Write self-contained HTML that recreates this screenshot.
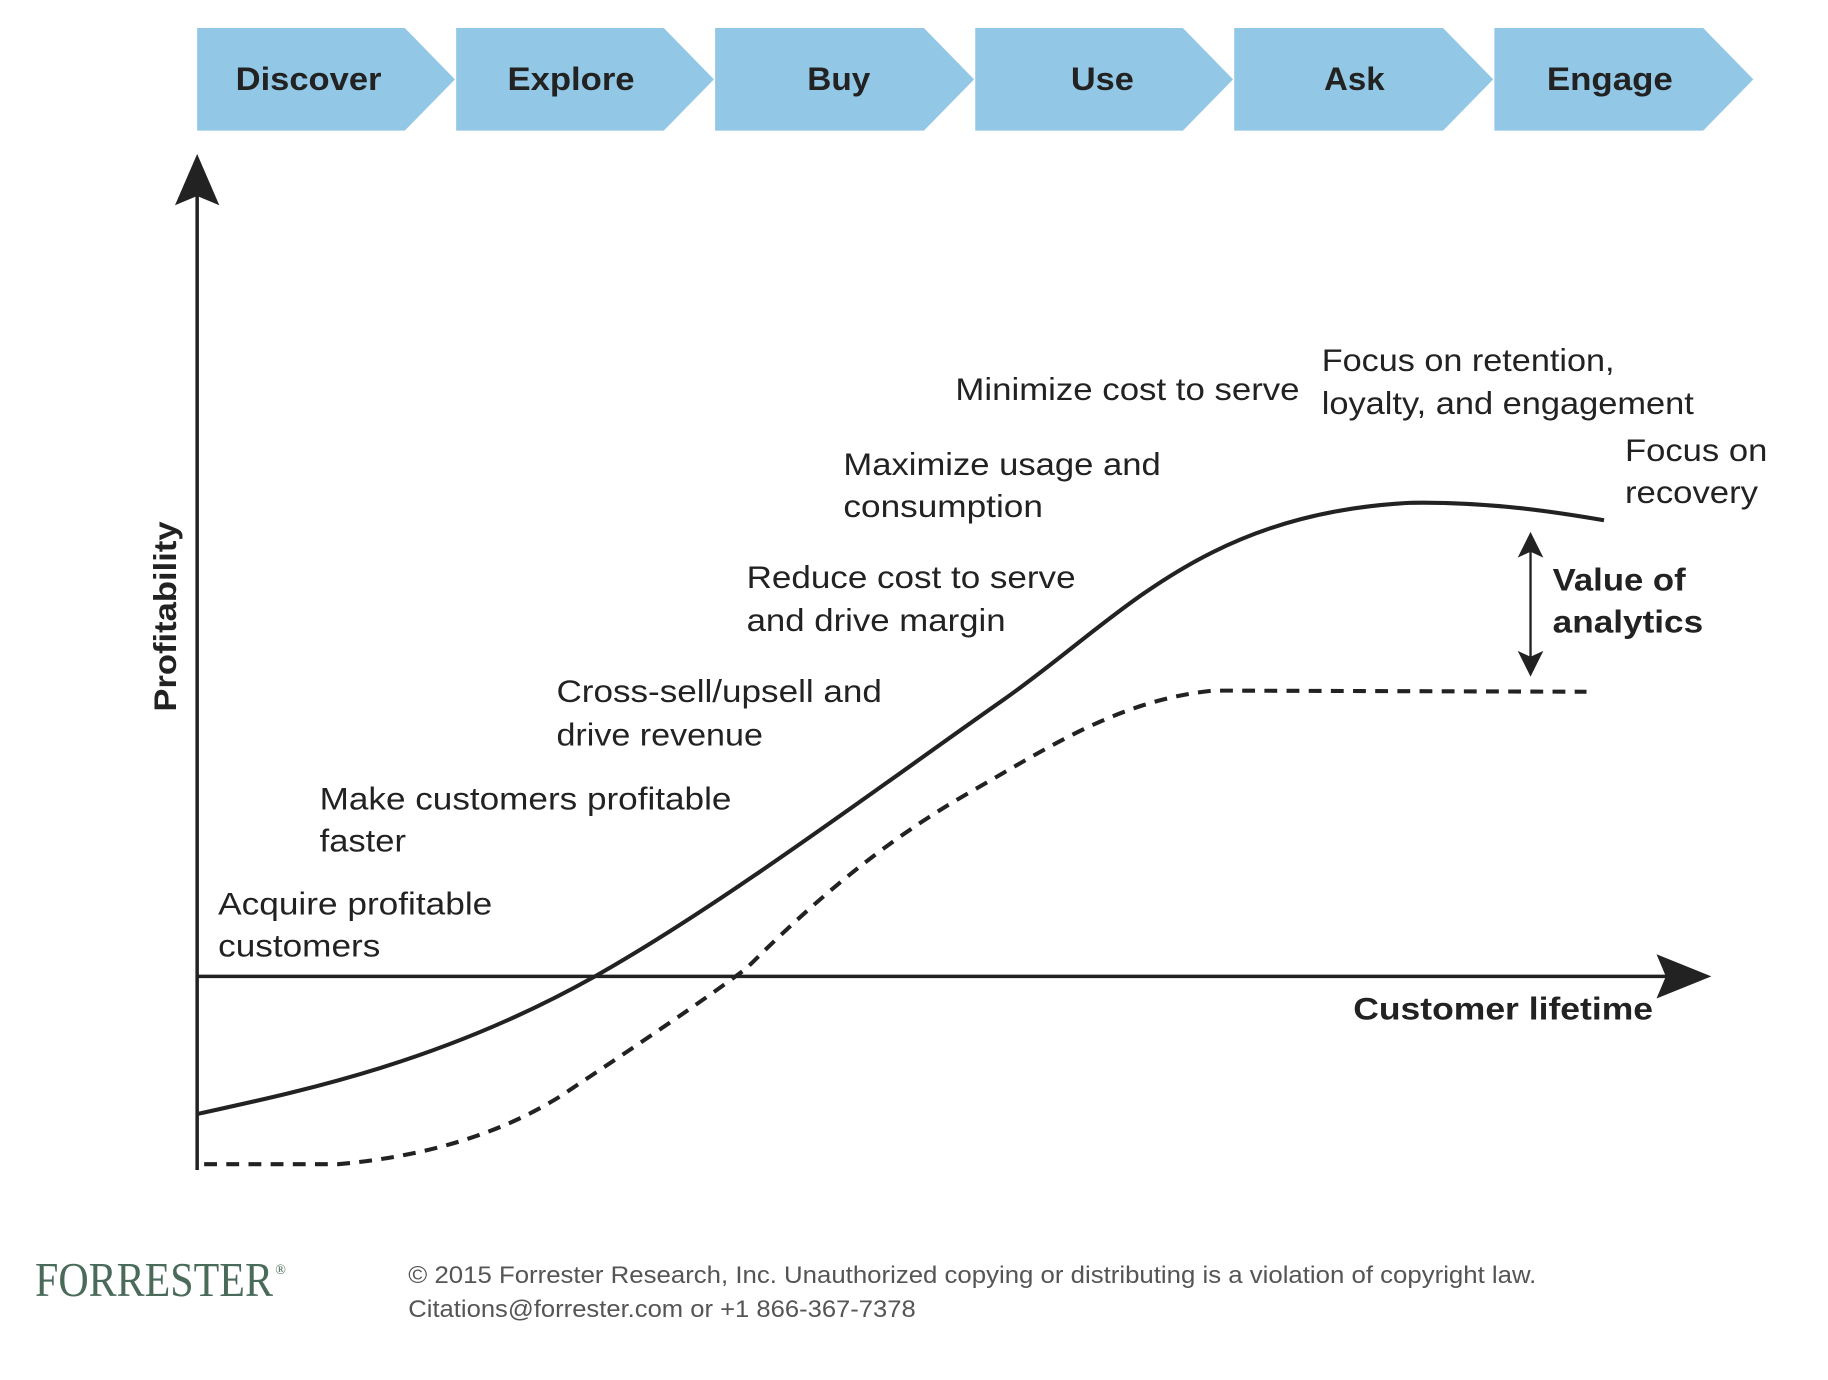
<!DOCTYPE html>
<html><head><meta charset="utf-8"><style>html,body{margin:0;padding:0;background:#fff}svg{display:block}</style></head>
<body>
<svg width="1828" height="1380" viewBox="0 0 1567 1183" preserveAspectRatio="none" xmlns="http://www.w3.org/2000/svg">
<g fill="#92c8e6">
<polygon points="169,24 347,24 390,68 347,112 169,112"/>
<polygon points="391,24 569,24 612,68 569,112 391,112"/>
<polygon points="613,24 792,24 835,68 792,112 613,112"/>
<polygon points="836,24 1014,24 1057,68 1014,112 836,112"/>
<polygon points="1058,24 1237,24 1280,68 1237,112 1058,112"/>
<polygon points="1281,24 1460,24 1503,68 1460,112 1281,112"/>
</g>
<g font-family="Liberation Sans, Arial, sans-serif" font-weight="bold" font-size="28" fill="#222">
<text x="202" y="77" textLength="125" lengthAdjust="spacingAndGlyphs">Discover</text>
<text x="435" y="77" textLength="109" lengthAdjust="spacingAndGlyphs">Explore</text>
<text x="692" y="77" textLength="54" lengthAdjust="spacingAndGlyphs">Buy</text>
<text x="918" y="77" textLength="54" lengthAdjust="spacingAndGlyphs">Use</text>
<text x="1135" y="77" textLength="52" lengthAdjust="spacingAndGlyphs">Ask</text>
<text x="1326" y="77" textLength="108" lengthAdjust="spacingAndGlyphs">Engage</text>
</g>
<g stroke="#222" stroke-width="3" fill="none">
<line x1="169" y1="1003" x2="169" y2="165"/>
<line x1="169" y1="837" x2="1430" y2="837"/>
</g>
<polygon points="169,132 188,176 169,168 150,176" fill="#222"/>
<polygon points="1467,837 1420,856 1428,837 1420,818" fill="#222"/>
<path d="M169,955 C260,935 380,910 510,837 C620,775 760,670 860,600 C960,530 1030,440 1210,431 C1280,430 1340,440 1375,446" stroke="#222" stroke-width="3.5" fill="none"/>
<path d="M175,998 L290,998 C380,990 440,965 480,940 C540,900 600,860 640,830 C700,770 760,720 830,680 C900,640 960,600 1040,592 L1360,593" stroke="#222" stroke-width="3.5" fill="none" stroke-dasharray="11,8"/>
<line x1="1312" y1="468" x2="1312" y2="568" stroke="#222" stroke-width="2"/>
<polygon points="1312,456 1323,478 1312,473 1301,478" fill="#222"/>
<polygon points="1312,580 1323,558 1312,563 1301,558" fill="#222"/>
<g font-family="Liberation Sans, Arial, sans-serif" font-size="27" fill="#222">
<text x="819" y="343" textLength="295" lengthAdjust="spacingAndGlyphs">Minimize cost to serve</text>
<text x="1133" y="318" textLength="251" lengthAdjust="spacingAndGlyphs">Focus on retention,</text>
<text x="1133" y="355" textLength="319" lengthAdjust="spacingAndGlyphs">loyalty, and engagement</text>
<text x="1393" y="395" textLength="122" lengthAdjust="spacingAndGlyphs">Focus on</text>
<text x="1393" y="431" textLength="114" lengthAdjust="spacingAndGlyphs">recovery</text>
<text x="723" y="407" textLength="272" lengthAdjust="spacingAndGlyphs">Maximize usage and</text>
<text x="723" y="443" textLength="171" lengthAdjust="spacingAndGlyphs">consumption</text>
<text x="640" y="504" textLength="282" lengthAdjust="spacingAndGlyphs">Reduce cost to serve</text>
<text x="640" y="541" textLength="222" lengthAdjust="spacingAndGlyphs">and drive margin</text>
<text x="477" y="602" textLength="279" lengthAdjust="spacingAndGlyphs">Cross-sell/upsell and</text>
<text x="477" y="639" textLength="177" lengthAdjust="spacingAndGlyphs">drive revenue</text>
<text x="274" y="694" textLength="353" lengthAdjust="spacingAndGlyphs">Make customers profitable</text>
<text x="274" y="730" textLength="74" lengthAdjust="spacingAndGlyphs">faster</text>
<text x="187" y="784" textLength="235" lengthAdjust="spacingAndGlyphs">Acquire profitable</text>
<text x="187" y="820" textLength="139" lengthAdjust="spacingAndGlyphs">customers</text>
</g>
<g font-family="Liberation Sans, Arial, sans-serif" font-size="27" font-weight="bold" fill="#222">
<text x="1331" y="506" textLength="114" lengthAdjust="spacingAndGlyphs">Value of</text>
<text x="1331" y="542" textLength="129" lengthAdjust="spacingAndGlyphs">analytics</text>
<text x="1160" y="874" textLength="257" lengthAdjust="spacingAndGlyphs">Customer lifetime</text>
<text transform="translate(151,610) rotate(-90)" textLength="163" lengthAdjust="spacingAndGlyphs">Profitability</text>
</g>
<text x="30" y="1111" font-family="Liberation Serif, serif" font-size="42" fill="#4a6a5a" textLength="204" lengthAdjust="spacingAndGlyphs">FORRESTER</text>
<text x="236" y="1092" font-family="Liberation Serif, serif" font-size="12" fill="#4a6a5a">®</text>
<g font-family="Liberation Sans, Arial, sans-serif" font-size="21" fill="#555">
<text x="350" y="1100" textLength="967" lengthAdjust="spacingAndGlyphs">© 2015 Forrester Research, Inc. Unauthorized copying or distributing is a violation of copyright law.</text>
<text x="350" y="1129" textLength="435" lengthAdjust="spacingAndGlyphs">Citations@forrester.com or +1 866-367-7378</text>
</g>
</svg>
</body></html>
